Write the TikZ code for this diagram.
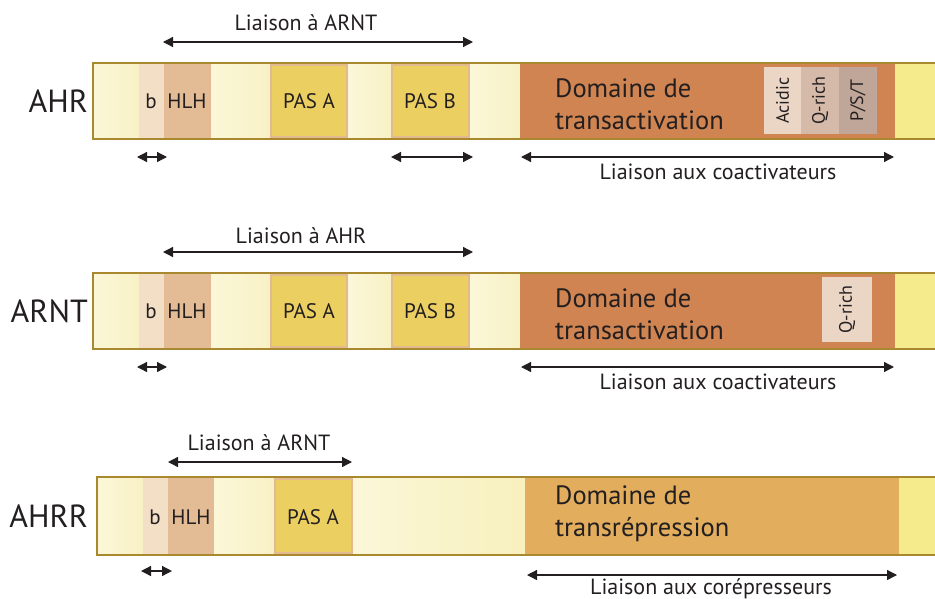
\documentclass[tikz,border=0pt]{standalone}
\usepackage{fontspec}
\setmainfont{PT Sans}
\usetikzlibrary{arrows.meta}
\definecolor{ink}{HTML}{231F20}
\definecolor{frame}{HTML}{A8892F}
\definecolor{creamA}{HTML}{FBF7D8}
\definecolor{creamB}{HTML}{F8F1C6}
\definecolor{bcol}{HTML}{F3DEC6}
\definecolor{hlhcol}{HTML}{E3BB94}
\definecolor{pascol}{HTML}{EBCF60}
\definecolor{pasedge}{HTML}{E3B98F}
\definecolor{tadcol}{HTML}{D08451}
\definecolor{trdcol}{HTML}{E2AE5E}
\definecolor{endcol}{HTML}{F5EA8C}
\definecolor{acidcol}{HTML}{EBD6C6}
\definecolor{qcol}{HTML}{D5BAA9}
\definecolor{pstcol}{HTML}{BFA698}
\definecolor{qcol2}{HTML}{EBD6C6}
\tikzset{
  txt/.style={text=ink, inner sep=0pt, font=\fontsize{21}{24}\selectfont},
  protname/.style={text=ink, inner sep=0pt, anchor=east, font=\fontsize{32}{34}\selectfont},
  domtxt/.style={text=ink, inner sep=0pt, anchor=west, align=left, font=\fontsize{26.5}{32}\selectfont},
  vtxt/.style={text=ink, inner sep=0pt, rotate=90, font=\fontsize{18}{20}\selectfont},
  lbl/.style={text=ink, inner sep=0pt, font=\fontsize{22}{24}\selectfont},
  dim/.style={draw=ink, line width=1.3pt, {Triangle[length=10pt,width=10pt]}-{Triangle[length=10pt,width=10pt]}},
  creamfill/.style={left color=creamA, right color=creamB},
  barframe/.style={draw=frame, line width=2.2pt},
}
\begin{document}
\begin{tikzpicture}[x=1pt,y=-1pt]
\useasboundingbox (0,0) rectangle (935,598);

% ---------- rows 1 and 2 (same layout) ----------
\foreach \dy/\row in {0/1,210/2}{
\begin{scope}[shift={(0,\dy)}]
  \fill[creamfill] (93,63) rectangle (139,139);
  \fill[bcol] (139,63) rectangle (164,139);
  \fill[hlhcol] (164,63) rectangle (211,139);
  \fill[creamfill] (211,63) rectangle (270,139);
  \fill[pasedge] (270,63) rectangle (348,139);
  \fill[pascol] (272,66) rectangle (346,136);
  \fill[creamfill] (348,63) rectangle (391,139);
  \fill[pasedge] (391,63) rectangle (470,139);
  \fill[pascol] (393,66) rectangle (468,136);
  \fill[creamfill] (470,63) rectangle (520,139);
  \fill[tadcol] (520,63) rectangle (895,139);
  \fill[endcol] (895,63) rectangle (945,139);
  \draw[barframe] (93,63) rectangle (945,139);
  \node[txt] (b\row) at (151,101) {b};
  \node[txt] (hlh\row) at (187,101) {HLH};
  \node[txt] (pasa\row) at (309,101) {PAS A};
  \node[txt] (pasb\row) at (430,101) {PAS B};
  \node[domtxt] (dom\row) at (555,104) {Domaine de\\transactivation};
  \coordinate (bl\row) at (137,157);
  \coordinate (br\row) at (167,157);
  \draw[dim] (bl\row) -- (br\row);
  \coordinate (cl\row) at (521,157);
  \coordinate (cr\row) at (894,157);
  \draw[dim] (cl\row) -- (cr\row);
  \node[lbl] (co\row) at (718,172) {Liaison aux coactivateurs};
  \coordinate (tl\row) at (163,42);
  \coordinate (tr\row) at (473,42);
  \draw[dim] (tl\row) -- (tr\row);
\end{scope}
}

% row 1 specifics
\node[protname] (ahr) at (88,101) {AHR};
\node[lbl] (l1) at (306,23) {Liaison à ARNT};
\coordinate (pbl) at (391,157);
\coordinate (pbr) at (473,157);
\draw[dim] (pbl) -- (pbr);
\fill[acidcol] (764,67) rectangle (801,134);
\fill[qcol] (801,67) rectangle (839,134);
\fill[pstcol] (839,67) rectangle (877,134);
\node[vtxt] (acid) at (782.5,100.5) {Acidic};
\node[vtxt] (qr1) at (820,100.5) {Q-rich};
\node[vtxt] (pst) at (858,100.5) {P/S/T};

% row 2 specifics
\node[protname] (arnt) at (88,311) {ARNT};
\node[lbl] (l2) at (301,236) {Liaison à AHR};
\fill[qcol2] (822,277) rectangle (872,342);
\node[vtxt] (qr2) at (847,309.5) {Q-rich};

% ---------- row 3 (AHRR) ----------
\fill[creamfill] (97,477) rectangle (143,555);
\fill[bcol] (143,477) rectangle (168,555);
\fill[hlhcol] (168,477) rectangle (214,555);
\fill[creamfill] (214,477) rectangle (274,555);
\fill[pasedge] (274,477) rectangle (353,555);
\fill[pascol] (276,480) rectangle (351,552);
\fill[left color=creamA, right color=creamB!85!endcol] (353,477) rectangle (525,555);
\fill[trdcol] (525,477) rectangle (899,555);
\fill[endcol] (899,477) rectangle (945,555);
\draw[barframe] (97,477) rectangle (945,555);
\node[protname] (ahrr) at (88,516) {AHRR};
\node[txt] (b3) at (155,517) {b};
\node[txt] (hlh3) at (191,517) {HLH};
\node[txt] (pasa3) at (313,517) {PAS A};
\node[domtxt] (dom3) at (555,514) {Domaine de\\transrépression};
\node[lbl] (l3) at (259,443) {Liaison à ARNT};
\coordinate (t3l) at (168,462);
\coordinate (t3r) at (352,462);
\draw[dim] (t3l) -- (t3r);
\coordinate (b3l) at (141,571);
\coordinate (b3r) at (172,571);
\draw[dim] (b3l) -- (b3r);
\coordinate (c3l) at (527,575);
\coordinate (c3r) at (897,575);
\draw[dim] (c3l) -- (c3r);
\node[lbl] (co3) at (711,589) {Liaison aux corépresseurs};
\end{tikzpicture}
\end{document}
